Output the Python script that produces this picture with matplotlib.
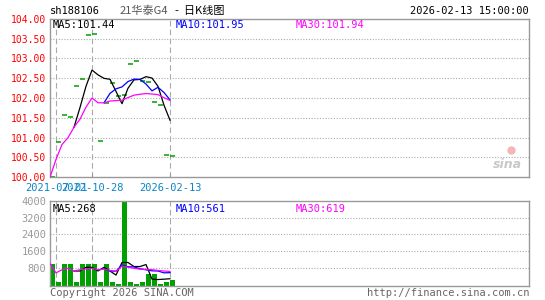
import matplotlib
matplotlib.use('Agg')
import matplotlib.pyplot as plt
import numpy as np
import pandas as pd

code = 'sh188106'
bond_name = '21华泰G4'
stamp = '2026-02-13 15:00:00'

# daily close (open = close for every day)
close = [100.00, 100.90, 101.58, 101.52, 102.31, 102.49, 103.58, 103.62, 100.92, 101.87,
         102.37, 102.05, 102.07, 102.87, 102.93, 102.42, 102.40, 101.90, 101.82, 100.55, 100.53]
volume = [993, 110, 993, 993, 110, 993, 993, 993, 110, 993,
          110, 20, 4010, 110, 20, 110, 500, 500, 20, 110, 210]
date_pos = [1, 7, 20]
date_labels = ['2021-07-01', '2022-10-28', '2026-02-13']
price_ticks = [100.0, 100.5, 101.0, 101.5, 102.0, 102.5, 103.0, 103.5, 104.0]
vol_ticks = [800, 1600, 2400, 3200, 4000]

W, H = 545, 300
GREY = '#999999'
GRID = '#aaaaaa'
GREEN = '#00a000'
MONO = 'DejaVu Sans Mono'
FS = 7


def px_axes(fig, x0, y0, x1, y1):
    return fig.add_axes([x0 / W, 1 - y1 / H, (x1 - x0) / W, (y1 - y0) / H])


def style(ax):
    for s in ax.spines.values():
        s.set_color(GREY)
        s.set_linewidth(1.0)
    ax.set_xlim(0, (529 - 50) / 6)
    ax.set_xticks([])
    ax.tick_params(axis='y', length=0, pad=2.5)
    for p in date_pos:
        ax.axvline(p, color=GRID, lw=0.8, ls=(0, (5, 3)), zorder=0)


fig = plt.figure(figsize=(W / 100, H / 100), dpi=100)

c = pd.Series(close)
v = pd.Series(volume)
x = np.arange(len(close))

# ---------- price panel
ax = px_axes(fig, 50, 18.7, 529, 177.3)
style(ax)
ax.set_ylim(100, 104)
ax.set_yticks(price_ticks)
ax.set_yticklabels([f'{t:.2f}' for t in price_ticks], color='red', fontsize=FS, family=MONO)
for t in price_ticks[1:-1]:
    ax.axhline(t, color=GRID, lw=0.8, ls=(0, (1, 1.5)), zorder=0)

ma5 = c.rolling(5).mean()
ma10 = c.rolling(10).mean()
ma30 = c.rolling(30, min_periods=1).mean()
ax.hlines(c, x, x + 5 / 6, color=GREEN, lw=1.1, zorder=3)
ax.plot(x, ma5, color='black', lw=0.9, zorder=4)
ax.plot(x, ma10, color='blue', lw=0.9, zorder=4)
ax.plot(x, ma30, color='magenta', lw=0.9, zorder=4)

for p, lab in zip(date_pos, date_labels):
    ax.text(p, -0.038, lab, transform=ax.get_xaxis_transform(), ha='center', va='top',
            color='#0a84c8', fontsize=FS + 0.5, family=MONO)
    ax.plot([p, p], [0, 0.02], transform=ax.get_xaxis_transform(), color=GREY, lw=0.8,
            clip_on=False)

ax.text(0.006, 0.993, f'MA5:{ma5.iloc[-1]:.2f}', transform=ax.transAxes, ha='left', va='top',
        color='black', fontsize=FS + 0.5, family=MONO)
ax.text(0.262, 0.993, f'MA10:{ma10.iloc[-1]:.2f}', transform=ax.transAxes, ha='left', va='top',
        color='blue', fontsize=FS + 0.5, family=MONO)
ax.text(0.512, 0.993, f'MA30:{ma30.iloc[-1]:.2f}', transform=ax.transAxes, ha='left', va='top',
        color='magenta', fontsize=FS + 0.5, family=MONO)

# sina watermark
ax.text(0.955, 0.08, 'sina', transform=ax.transAxes, ha='center', va='center',
        color='#c8c8c8', fontsize=9, style='italic', weight='bold', family='DejaVu Sans')
ax.plot([0.962], [0.17], 'o', transform=ax.transAxes, color='#f4b6b6', ms=6, mew=0)

# ---------- volume panel
ax2 = px_axes(fig, 50, 201, 529, 286)
style(ax2)
base = -80
ax2.set_ylim(base, 4000)
ax2.set_yticks(vol_ticks)
ax2.set_yticklabels([str(t) for t in vol_ticks], color=GREY, fontsize=FS + 0.5, family=MONO)
for t in vol_ticks[:-1]:
    ax2.axhline(t, color=GRID, lw=0.8, ls=(0, (1, 1.5)), zorder=0)

ax2.bar(x, v - base, bottom=base, width=5 / 6, align='edge', color=GREEN, lw=0, zorder=2)
vma5 = v.rolling(5).mean()
vma10 = v.rolling(10).mean()
vma30 = v.rolling(30, min_periods=1).mean()
ax2.plot(x, vma5, color='black', lw=0.9, zorder=4)
ax2.plot(x, vma10, color='blue', lw=0.9, zorder=4)
ax2.plot(x, vma30, color='magenta', lw=0.9, zorder=4)

ax2.text(0.006, 0.97, f'MA5:{vma5.iloc[-1]:.0f}', transform=ax2.transAxes, ha='left', va='top',
         color='black', fontsize=FS + 0.5, family=MONO)
ax2.text(0.262, 0.97, f'MA10:{vma10.iloc[-1]:.0f}', transform=ax2.transAxes, ha='left', va='top',
         color='blue', fontsize=FS + 0.5, family=MONO)
ax2.text(0.512, 0.97, f'MA30:{vma30.iloc[-1]:.0f}', transform=ax2.transAxes, ha='left', va='top',
         color='magenta', fontsize=FS + 0.5, family=MONO)

# ---------- header / footer
fig.text(50 / W, 1 - 11 / H, code, ha='left', va='center', fontsize=FS + 0.5, family=MONO)
fig.text(168 / W, 1 - 11 / H, bond_name, ha='right', va='center', fontsize=8,
         color='#555555', family=['Noto Sans CJK SC', 'DejaVu Sans'])
fig.text(175 / W, 1 - 11 / H, '-  日K线图', ha='left', va='center', fontsize=8,
         family=['Noto Sans CJK SC', 'DejaVu Sans'])
fig.text(529 / W, 1 - 11 / H, stamp, ha='right', va='center', fontsize=FS + 0.5, family=MONO)
fig.text(50 / W, 1 - 293 / H, 'Copyright 2026 SINA.COM', ha='left', va='center',
         color='#666666', fontsize=FS + 0.5, family=MONO)
fig.text(529 / W, 1 - 293 / H, 'http://finance.sina.com.cn', ha='right', va='center',
         color='#666666', fontsize=FS + 0.5, family=MONO)

fig.savefig('out.png', dpi=100)
